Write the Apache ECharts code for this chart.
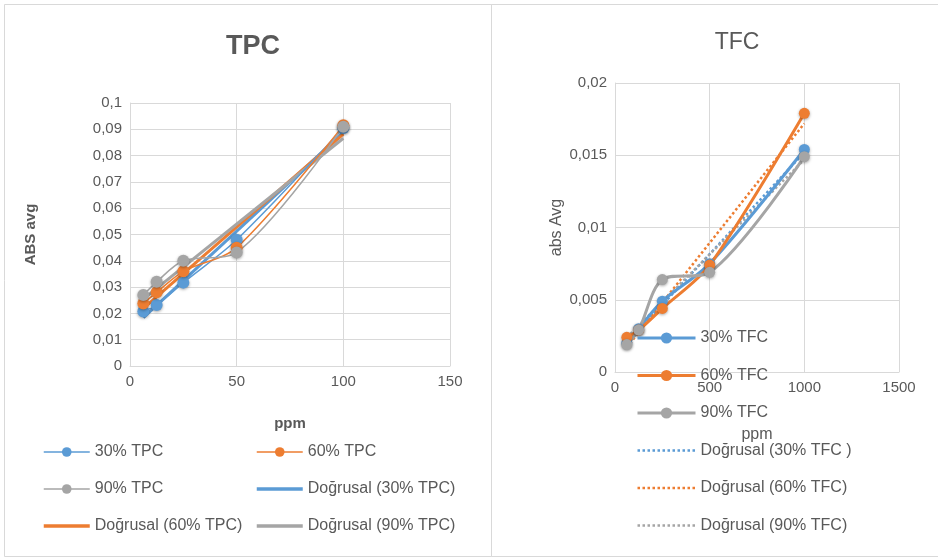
<!DOCTYPE html>
<html>
<head>
<meta charset="utf-8">
<script src="https://cdn.jsdelivr.net/npm/echarts@6/dist/echarts.min.js"></script>
<style>
html,body{margin:0;padding:0;background:#fff;}
#c{width:938px;height:559px;}
</style>
</head>
<body>
<div id="c"></div>
<script>
// ---- TPC data ----
const tpcX = [6.25, 12.5, 25, 50, 100];
const tpc30 = [0.0207, 0.0232, 0.0317, 0.048, 0.0905];
const tpc60 = [0.0238, 0.028, 0.036, 0.045, 0.0915];
const tpc90 = [0.027, 0.032, 0.040, 0.0432, 0.091];
const tpcTrendX = [6.25, 100];
const tpcTrend30 = [0.0184, 0.0888];
const tpcTrend60 = [0.0219, 0.0882];
const tpcTrend90 = [0.0254, 0.0866];
const tpcNames = ['30% TPC', '60% TPC', '90% TPC', 'Doğrusal (30% TPC)', 'Doğrusal (60% TPC)', 'Doğrusal (90% TPC)'];

// ---- TFC data ----
const tfcX = [62.5, 125, 250, 500, 1000];
const tfc30 = [0.002, 0.003, 0.0049, 0.0075, 0.0154];
const tfc60 = [0.0024, 0.0029, 0.0044, 0.0074, 0.0179];
const tfc90 = [0.0019, 0.0029, 0.0064, 0.0069, 0.0149];
const tfcTrendX = [62.5, 1000];
const tfcTrend30 = [0.0020, 0.0152];
const tfcTrend60 = [0.0017, 0.0172];
const tfcTrend90 = [0.0024, 0.0147];
const tfcNames = ['30% TFC', '60% TFC', '90% TFC', 'Doğrusal (30% TFC )', 'Doğrusal (60% TFC)', 'Doğrusal (90% TFC)'];

const BLUE = '#5B9BD5', ORANGE = '#ED7D31', GRAY = '#A5A5A5';
const TXT = '#595959', GRID = '#D9D9D9';
const FONT = "'Liberation Sans', Arial, sans-serif";

function pairs(xs, ys) { return xs.map((x, i) => [x, ys[i]]); }
function fmt(v) { return String(+v.toFixed(4)).replace('.', ','); }

function dataSeries(name, xs, ys, color, idx, lw, sym) {
  return {
    type: 'line', name: name, xAxisIndex: idx, yAxisIndex: idx,
    data: pairs(xs, ys), smooth: 0.3,
    symbol: 'circle', symbolSize: sym,
    lineStyle: { color: color, width: lw },
    itemStyle: { color: color, shadowBlur: 3, shadowColor: 'rgba(0,0,0,0.35)', shadowOffsetY: 1 },
    z: 3
  };
}
function trendSeries(name, xs, ys, color, idx, lw, type) {
  return {
    type: 'line', name: name, xAxisIndex: idx, yAxisIndex: idx,
    data: pairs(xs, ys), symbol: 'none',
    lineStyle: { color: color, width: lw, type: type },
    itemStyle: { color: color },
    z: 2
  };
}
// legend entry for a data series: line + marker
function dataLegend(name, lw) {
  return { name: name, lineStyle: { width: lw } };
}
// legend entry for a trend line: line only, no marker
function trendLegend(name, lw) {
  return { name: name, itemStyle: { opacity: 0 }, lineStyle: { width: lw } };
}

function axisCommon() {
  return {
    axisLine: { show: true, lineStyle: { color: GRID, width: 1 } },
    axisTick: { show: false },
    splitLine: { show: true, lineStyle: { color: GRID, width: 1 } },
    axisLabel: { color: TXT, fontSize: 15, fontFamily: FONT, formatter: fmt }
  };
}

const chart = echarts.init(document.getElementById('c'), null, { renderer: 'canvas' });

const option = {
  backgroundColor: '#fff',
  animation: false,
  graphic: [
    { type: 'rect', shape: { x: 4.5, y: 4.5, width: 487, height: 552 }, style: { fill: 'none', stroke: GRID, lineWidth: 1 }, silent: true },
    { type: 'rect', shape: { x: 491.5, y: 4.5, width: 460, height: 552 }, style: { fill: 'none', stroke: GRID, lineWidth: 1 }, silent: true }
  ],
  title: [
    { text: 'TPC', left: 248, top: 28, textAlign: 'center',
      textStyle: { fontSize: 27, fontWeight: 'bold', color: TXT, fontFamily: FONT } },
    { text: 'TFC', left: 732, top: 26, textAlign: 'center',
      textStyle: { fontSize: 23, fontWeight: 'normal', color: TXT, fontFamily: FONT } }
  ],
  grid: [
    { left: 130, top: 103, width: 320, height: 263 },
    { left: 615, top: 83, width: 284, height: 289 }
  ],
  xAxis: [
    Object.assign(axisCommon(), {
      type: 'value', gridIndex: 0, min: 0, max: 150, interval: 50,
      name: 'ppm', nameLocation: 'middle', nameGap: 50,
      nameTextStyle: { color: TXT, fontSize: 15, fontWeight: 'bold', fontFamily: FONT }
    }),
    Object.assign(axisCommon(), {
      type: 'value', gridIndex: 1, min: 0, max: 1500, interval: 500,
      name: 'ppm', nameLocation: 'middle', nameGap: 55,
      nameTextStyle: { color: TXT, fontSize: 16, fontFamily: FONT }
    })
  ],
  yAxis: [
    Object.assign(axisCommon(), {
      type: 'value', gridIndex: 0, min: 0, max: 0.1, interval: 0.01,
      name: 'ABS avg', nameLocation: 'middle', nameGap: 92, nameRotate: 90,
      nameTextStyle: { color: TXT, fontSize: 15, fontWeight: 'bold', fontFamily: FONT }
    }),
    Object.assign(axisCommon(), {
      type: 'value', gridIndex: 1, min: 0, max: 0.02, interval: 0.005,
      name: 'abs Avg', nameLocation: 'middle', nameGap: 50, nameRotate: 90,
      nameTextStyle: { color: TXT, fontSize: 16, fontFamily: FONT }
    })
  ],
  legend: [
    { data: [dataLegend(tpcNames[0], 1.5), dataLegend(tpcNames[2], 1.5), trendLegend(tpcNames[4], 3.5)],
      orient: 'vertical', left: 42, top: 444,
      itemWidth: 46, itemHeight: 12, itemGap: 21, padding: 0,
      textStyle: { color: TXT, fontSize: 16, fontFamily: FONT } },
    { data: [dataLegend(tpcNames[1], 1.5), trendLegend(tpcNames[3], 3.5), trendLegend(tpcNames[5], 3.5)],
      orient: 'vertical', left: 255, top: 444,
      itemWidth: 46, itemHeight: 12, itemGap: 21, padding: 0,
      textStyle: { color: TXT, fontSize: 16, fontFamily: FONT } },
    { data: [dataLegend(tfcNames[0], 3), dataLegend(tfcNames[1], 3), dataLegend(tfcNames[2], 3),
             trendLegend(tfcNames[3], 2.5), trendLegend(tfcNames[4], 2.5), trendLegend(tfcNames[5], 2.5)],
      orient: 'vertical', left: 636, top: 330,
      itemWidth: 58, itemHeight: 14, itemGap: 21.5, padding: 0,
      textStyle: { color: TXT, fontSize: 16, fontFamily: FONT } }
  ],
  series: [
    trendSeries(tpcNames[3], tpcTrendX, tpcTrend30, BLUE, 0, 3, 'solid'),
    trendSeries(tpcNames[4], tpcTrendX, tpcTrend60, ORANGE, 0, 3, 'solid'),
    trendSeries(tpcNames[5], tpcTrendX, tpcTrend90, GRAY, 0, 3, 'solid'),
    dataSeries(tpcNames[0], tpcX, tpc30, BLUE, 0, 1.5, 12),
    dataSeries(tpcNames[1], tpcX, tpc60, ORANGE, 0, 1.5, 12),
    dataSeries(tpcNames[2], tpcX, tpc90, GRAY, 0, 1.5, 12),

    dataSeries(tfcNames[0], tfcX, tfc30, BLUE, 1, 3, 11),
    dataSeries(tfcNames[1], tfcX, tfc60, ORANGE, 1, 3, 11),
    dataSeries(tfcNames[2], tfcX, tfc90, GRAY, 1, 3, 11),
    trendSeries(tfcNames[3], tfcTrendX, tfcTrend30, BLUE, 1, 2.5, 'dotted'),
    trendSeries(tfcNames[4], tfcTrendX, tfcTrend60, ORANGE, 1, 2.5, 'dotted'),
    trendSeries(tfcNames[5], tfcTrendX, tfcTrend90, GRAY, 1, 2.5, 'dotted')
  ]
};
chart.setOption(option);
</script>
</body>
</html>
